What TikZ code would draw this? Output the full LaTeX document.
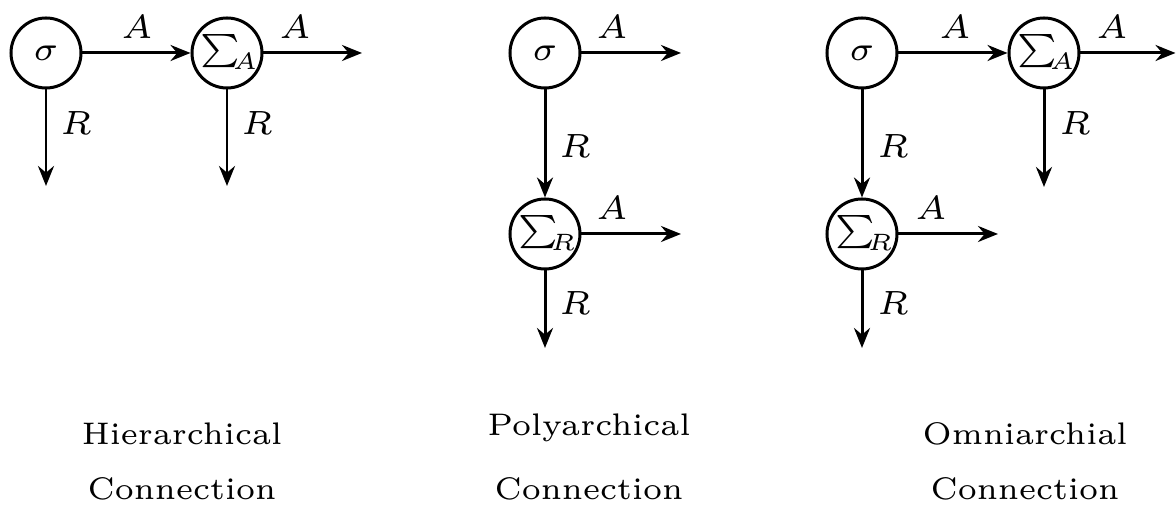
\documentclass[tikz,border=0pt]{standalone}
\usepackage{graphicx}
\usepackage{exscale}
\usetikzlibrary{arrows.meta}
\newcommand\tn[1]{\scalebox{1.68}{\fontsize{6}{7}\selectfont #1}}
\newcommand\tsum[1]{\scalebox{1.42}{\fontsize{6}{7}\selectfont $\sum\nolimits_{\mkern-4mu #1}$}}
\newcommand\tc[1]{\scalebox{1.56}{\fontsize{6}{7}\selectfont #1}}
\begin{document}
\begin{tikzpicture}[x=0.3pt,y=-0.3pt,
  st/.style={circle,draw,line width=0.9pt,minimum size=21pt,inner sep=0pt,
    label={[inner sep=0pt,anchor=center]center:\tn{$#1$}}},
  sumst/.style={circle,draw,line width=0.9pt,minimum size=21pt,inner sep=0pt,
    label={[inner sep=0pt,anchor=center,xshift=0.9pt,yshift=0.3pt]center:\tsum{#1}}},
  conn/.style={line width=0.9pt,-{Stealth[length=6pt,width=4.8pt,inset=2pt]}},
  lab/.style={inner sep=0pt},
  capt/.style={inner sep=0pt,anchor=base}]
\useasboundingbox (0,0) rectangle (1176,506);
% ---- Hierarchical
\node[st=\sigma] (s1) at (46,53) {};
\node[sumst=A] (SA1) at (227,53) {};
\coordinate (a1) at (362,53);
\coordinate (d1) at (46,186);
\coordinate (d2) at (227,186);
\draw[conn] (s1) -- (SA1);
\draw[conn] (SA1) -- (a1);
\draw[conn] (s1) -- (d1);
\draw[conn] (SA1) -- (d2);
\node[lab] (l1) at (137,27) {\tn{$A$}};
\node[lab] (l2) at (295,27) {\tn{$A$}};
\node[lab] (l3) at (76,123) {\tn{$R$}};
\node[lab] (l4) at (257,123) {\tn{$R$}};
% ---- Polyarchical
\node[st=\sigma] (s2) at (545,53) {};
\node[sumst=R] (SR2) at (545,234) {};
\coordinate (a2) at (681,53);
\coordinate (a3) at (681,234);
\coordinate (d3) at (545,348);
\draw[conn] (s2) -- (a2);
\draw[conn] (s2) -- (SR2);
\draw[conn] (SR2) -- (a3);
\draw[conn] (SR2) -- (d3);
\node[lab] (l5) at (612,27) {\tn{$A$}};
\node[lab] (l6) at (575,146) {\tn{$R$}};
\node[lab] (l7) at (612,208) {\tn{$A$}};
\node[lab] (l8) at (575,303) {\tn{$R$}};
% ---- Omniarchial
\node[st=\sigma] (s3) at (862,53) {};
\node[sumst=A] (SA3) at (1044,53) {};
\node[sumst=R] (SR3) at (862,234) {};
\coordinate (a4) at (1175.5,53);
\coordinate (d4) at (1044,187);
\coordinate (a5) at (998,234);
\coordinate (d5) at (862,348);
\draw[conn] (s3) -- (SA3);
\draw[conn] (SA3) -- (a4);
\draw[conn] (SA3) -- (d4);
\draw[conn] (s3) -- (SR3);
\draw[conn] (SR3) -- (a5);
\draw[conn] (SR3) -- (d5);
\node[lab] (l9) at (955,27) {\tn{$A$}};
\node[lab] (l10) at (1112,27) {\tn{$A$}};
\node[lab] (l11) at (1075,123) {\tn{$R$}};
\node[lab] (l12) at (893,146) {\tn{$R$}};
\node[lab] (l13) at (931,208) {\tn{$A$}};
\node[lab] (l14) at (893,303) {\tn{$R$}};
% ---- captions
\node[capt] (c1) at (182,445) {\tc{Hierarchical}};
\node[capt] (c2) at (182,500) {\tc{Connection}};
\node[capt] (c3) at (589,436) {\tc{Polyarchical}};
\node[capt] (c4) at (589,500) {\tc{Connection}};
\node[capt] (c5) at (1025,445) {\tc{Omniarchial}};
\node[capt] (c6) at (1025,500) {\tc{Connection}};
\end{tikzpicture}
\end{document}
